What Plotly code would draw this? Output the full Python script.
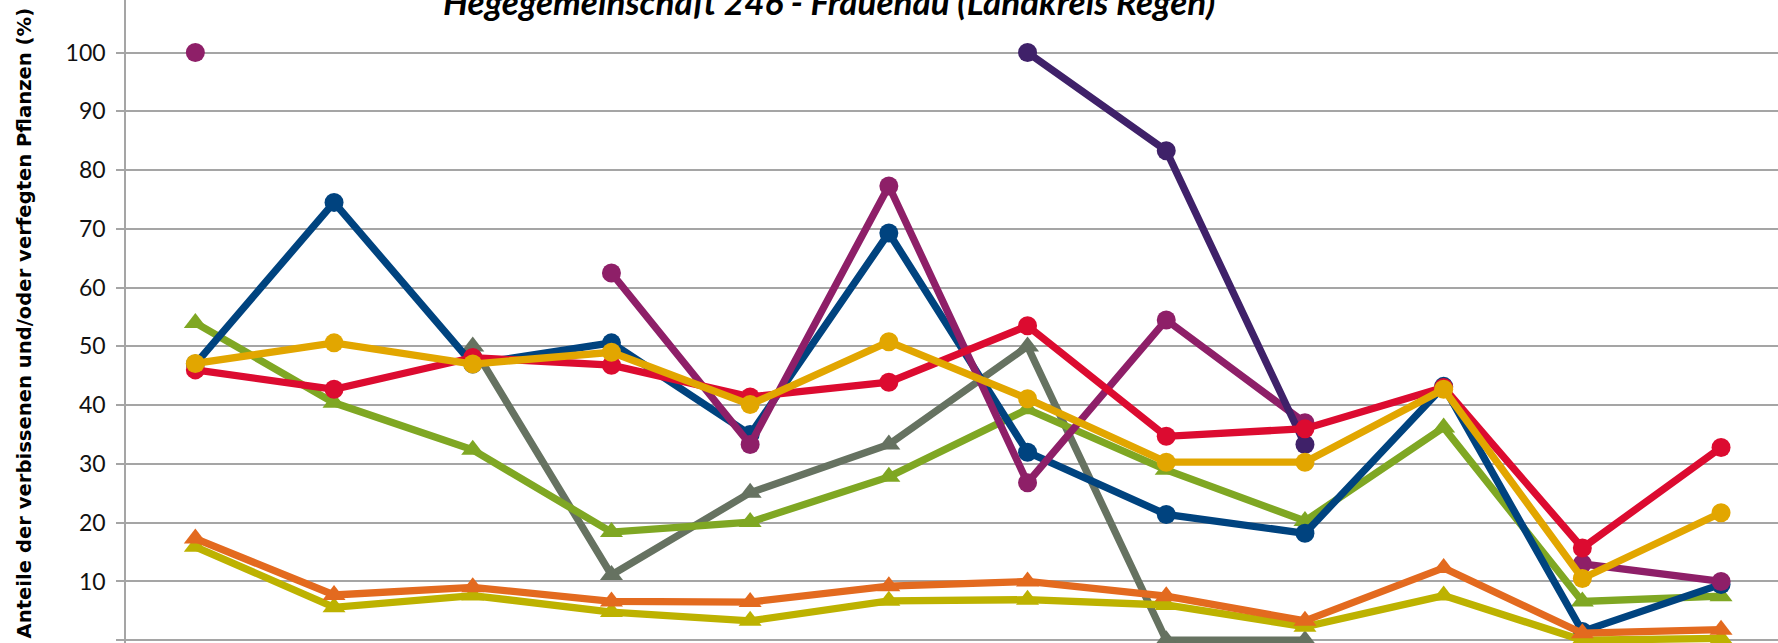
import plotly.graph_objects as go

# ---- data ----
categories = ["1991", "1994", "1997", "2000", "2003", "2006", "2009", "2012", "2015", "2018", "2021", "2024"]

s_blue     = [47.0, 74.5, 47.0, 50.6, 35.0, 69.3, 32.0, 21.4, 18.2, 43.2, 1.5, 9.5]
s_magenta  = [100.0, None, None, 62.5, 33.3, 77.3, 26.8, 54.5, 37.0, None, 13.0, 10.0]
s_purple   = [None, None, None, None, None, None, 100.0, 83.3, 33.3, None, None, None]
s_red      = [46.0, 42.7, 48.1, 46.8, 41.4, 43.9, 53.5, 34.7, 36.0, 43.0, 15.7, 32.8]
s_yellow   = [47.1, 50.6, 47.0, 49.0, 40.1, 50.8, 41.1, 30.3, 30.3, 42.7, 10.5, 21.7]
s_olive    = [54.0, 40.4, 32.4, 18.4, 20.1, 27.8, 39.3, 29.0, 20.3, 36.2, 6.6, 7.5]
s_grey     = [None, None, 50.0, 11.1, 25.1, 33.3, 50.0, 0.0, 0.0, None, None, None]
s_orange   = [17.3, 7.7, 9.0, 6.6, 6.5, 9.2, 10.0, 7.5, 3.3, 12.3, 1.2, 1.8]
s_ochre    = [15.9, 5.6, 7.6, 4.8, 3.3, 6.7, 6.9, 6.0, 2.3, 7.6, 0.0, 0.3]

title_text = "Hegegemeinschaft 246 - Frauenau (Landkreis Regen)"
ytitle_text = "Anteile der verbissenen und/oder verfegten Pflanzen (%)"
y_ticks = [0, 10, 20, 30, 40, 50, 60, 70, 80, 90, 100]

# ---- layout constants ----
W, H = 1778, 643
ML = 126
plot_w = W - ML
band = 138.7
x_range = [-0.5, -0.5 + plot_w / band]
y_range = [-0.47, 108.94]

series = [
    ("Sonstige", s_grey, "#667261", "triangle-up"),
    ("Edellaubholz", s_olive, "#7FA723", "triangle-up"),
    ("Fichte", s_blue, "#00437F", "circle"),
    ("Buche", s_ochre, "#BDB200", "triangle-up"),
    ("Eiche", s_orange, "#E36A1F", "triangle-up"),
    ("Kiefer", s_magenta, "#8E1F68", "circle"),
    ("Lärche", s_purple, "#3F2169", "circle"),
    ("Tanne", s_red, "#DC0B30", "circle"),
    ("Bergahorn", s_yellow, "#E2A600", "circle"),
]

fig = go.Figure()
for name, vals, col, sym in series:
    fig.add_trace(go.Scatter(
        x=categories, y=vals, name=name, mode="lines+markers",
        connectgaps=False, cliponaxis=False,
        line=dict(color=col, width=7.3),
        marker=dict(color=col, size=19 if sym == "circle" else 20, symbol=sym,
                    line=dict(width=0)),
    ))

fig.update_layout(
    width=W, height=H,
    margin=dict(l=ML, r=0, t=0, b=0, pad=0, autoexpand=False),
    paper_bgcolor="white", plot_bgcolor="white",
    showlegend=False,
    font=dict(family="Lato, 'Open Sans', sans-serif", color="#111111"),
    xaxis=dict(type="category", range=x_range, showgrid=False, zeroline=False,
               showticklabels=False, showline=False, ticks="", automargin=False),
    yaxis=dict(range=y_range, tickvals=y_ticks, showgrid=True, automargin=False,
               gridcolor="#A5A5A5", gridwidth=1.5, zeroline=False,
               showline=True, linecolor="#A5A5A5", linewidth=1.5,
               ticks="outside", ticklen=8, tickcolor="#A5A5A5", tickwidth=1.5,
               tickfont=dict(family="Lato", size=23, color="#111111"),
               ticklabelstandoff=6),
    annotations=[
        dict(text="<b><i>" + title_text + "</i></b>", xref="paper", yref="paper",
             x=(829 - ML) / plot_w, y=1, xanchor="center", yanchor="middle",
             yshift=-1, showarrow=False,
             font=dict(family="Lato", size=35, color="#000000")),
        dict(text="<b>" + ytitle_text + "</b>", xref="paper", yref="paper",
             x=(24 - ML) / plot_w, y=0.497, xanchor="center", yanchor="middle",
             textangle=-90, showarrow=False,
             font=dict(family="DejaVu Sans", size=19.6, color="#000000")),
    ],
)

fig.write_html(
    "out.html",
    config={"displayModeBar": False},
    post_script="document.body.style.margin='0';document.body.style.overflow='hidden';",
)
